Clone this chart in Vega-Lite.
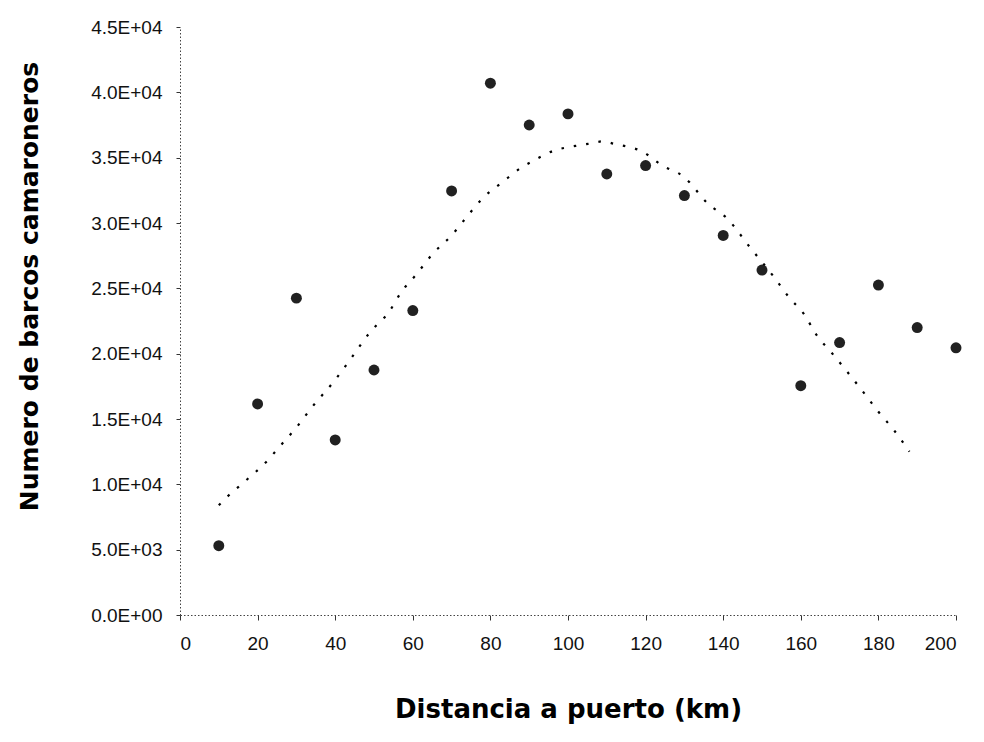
{
  "$schema": "https://vega.github.io/schema/vega-lite/v6.json",
  "width": 776,
  "height": 588,
  "autosize": "none",
  "padding": {"left": 180, "top": 27, "right": 28, "bottom": 127},
  "background": "white",
  "config": {"view": {"stroke": null}},
  "datasets": {
    "obs": [
      {"dist": 10, "barcos": 5300},
      {"dist": 20, "barcos": 16150},
      {"dist": 30, "barcos": 24250},
      {"dist": 40, "barcos": 13400},
      {"dist": 50, "barcos": 18750},
      {"dist": 60, "barcos": 23300},
      {"dist": 70, "barcos": 32450},
      {"dist": 80, "barcos": 40700},
      {"dist": 90, "barcos": 37500},
      {"dist": 100, "barcos": 38350},
      {"dist": 110, "barcos": 33750},
      {"dist": 120, "barcos": 34400},
      {"dist": 130, "barcos": 32100},
      {"dist": 140, "barcos": 29050},
      {"dist": 150, "barcos": 26400},
      {"dist": 160, "barcos": 17550},
      {"dist": 170, "barcos": 20850},
      {"dist": 180, "barcos": 25250},
      {"dist": 190, "barcos": 22000},
      {"dist": 200, "barcos": 20450}
    ],
    "trend": [
      {"dist": 10, "barcos": 8400},
      {"dist": 12, "barcos": 9000},
      {"dist": 17, "barcos": 10300},
      {"dist": 22, "barcos": 11650},
      {"dist": 26, "barcos": 13000},
      {"dist": 30, "barcos": 14350},
      {"dist": 34, "barcos": 15900},
      {"dist": 40, "barcos": 18000},
      {"dist": 44, "barcos": 19600},
      {"dist": 49, "barcos": 21650},
      {"dist": 54, "barcos": 23250},
      {"dist": 57, "barcos": 24700},
      {"dist": 61, "barcos": 26100},
      {"dist": 65, "barcos": 27600},
      {"dist": 70, "barcos": 29050},
      {"dist": 74, "barcos": 30500},
      {"dist": 78, "barcos": 31900},
      {"dist": 83, "barcos": 33100},
      {"dist": 88, "barcos": 34250},
      {"dist": 91, "barcos": 34750},
      {"dist": 97, "barcos": 35600},
      {"dist": 100, "barcos": 35800},
      {"dist": 103, "barcos": 35950},
      {"dist": 106, "barcos": 36100},
      {"dist": 109, "barcos": 36250},
      {"dist": 112, "barcos": 36050},
      {"dist": 116, "barcos": 35800},
      {"dist": 119, "barcos": 35500},
      {"dist": 124, "barcos": 34450},
      {"dist": 130, "barcos": 33500},
      {"dist": 136, "barcos": 31500},
      {"dist": 141, "barcos": 30350},
      {"dist": 147, "barcos": 28100},
      {"dist": 153, "barcos": 25900},
      {"dist": 157, "barcos": 24300},
      {"dist": 161, "barcos": 22950},
      {"dist": 164, "barcos": 21450},
      {"dist": 168, "barcos": 20050},
      {"dist": 172, "barcos": 18600},
      {"dist": 176, "barcos": 17100},
      {"dist": 180, "barcos": 15550},
      {"dist": 184, "barcos": 14150},
      {"dist": 188, "barcos": 12500}
    ]
  },
  "encoding": {
    "x": {
      "field": "dist",
      "type": "quantitative",
      "scale": {"domain": [0, 200], "nice": false, "zero": false},
      "axis": {
        "title": "Distancia a puerto (km)",
        "values": [0, 20, 40, 60, 80, 100, 120, 140, 160, 180, 200],
        "grid": false,
        "domainColor": "#444",
        "domainDash": [1.5, 2],
        "domainWidth": 1,
        "tickColor": "#333",
        "tickSize": 5,
        "tickWidth": 1,
        "labelFont": "Liberation Sans",
        "labelFontSize": 19,
        "labelColor": "#111",
        "labelPadding": 14,
        "titleFont": "DejaVu Sans",
        "titleFontSize": 26,
        "titleFontWeight": "bold",
        "titleColor": "#000",
        "titleX": 388,
        "titleY": 102,
        "titleAlign": "center",
        "titleBaseline": "alphabetic"
      }
    },
    "y": {
      "field": "barcos",
      "type": "quantitative",
      "scale": {"domain": [0, 45000], "nice": false, "zero": true},
      "axis": {
        "title": "Numero de barcos camaroneros",
        "values": [0, 5000, 10000, 15000, 20000, 25000, 30000, 35000, 40000, 45000],
        "labelExpr": "replace(format(datum.value, '.1e'), 'e+', 'E+0')",
        "grid": false,
        "domainColor": "#444",
        "domainDash": [1.5, 2],
        "domainWidth": 1,
        "tickColor": "#333",
        "tickSize": 4,
        "tickWidth": 1,
        "labelFont": "Liberation Sans",
        "labelFontSize": 19,
        "labelColor": "#111",
        "labelPadding": 14,
        "titleFont": "DejaVu Sans",
        "titleFontSize": 25,
        "titleFontWeight": "bold",
        "titleColor": "#000",
        "titleAngle": -90,
        "titleX": -143,
        "titleY": 259,
        "titleAlign": "center",
        "titleBaseline": "alphabetic"
      }
    }
  },
  "layer": [
    {
      "data": {"name": "trend"},
      "mark": {"type": "line", "color": "#000", "strokeWidth": 2.2, "strokeDash": [2.5, 10], "interpolate": "monotone"}
    },
    {
      "data": {"name": "obs"},
      "mark": {"type": "point", "shape": "circle", "filled": true, "size": 120, "color": "#151515", "opacity": 0.95}
    }
  ]
}
